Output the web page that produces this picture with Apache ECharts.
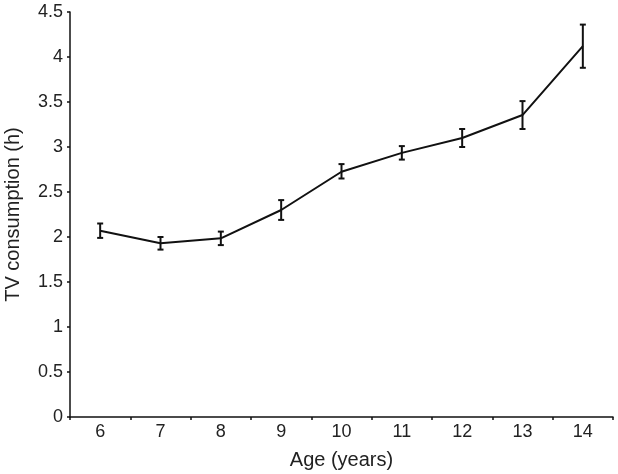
<!DOCTYPE html>
<html>
<head>
<meta charset="utf-8">
<script src="https://cdn.jsdelivr.net/npm/echarts@6/dist/echarts.min.js"></script>
<style>
html,body{margin:0;padding:0;background:#fff;}
#main{width:618px;height:474px;}
</style>
</head>
<body>
<div id="main"></div>
<script>
const categories = ['6','7','8','9','10','11','12','13','14'];
const means = [2.07, 1.93, 1.985, 2.30, 2.725, 2.935, 3.10, 3.355, 4.12];
const errLow = [1.99, 1.86, 1.91, 2.19, 2.65, 2.86, 3.00, 3.20, 3.88];
const errHigh = [2.15, 2.00, 2.06, 2.41, 2.81, 3.01, 3.20, 3.51, 4.36];
const yTicks = [0, 0.5, 1, 1.5, 2, 2.5, 3, 3.5, 4, 4.5];

const chart = echarts.init(document.getElementById('main'));
const font = 'Liberation Sans, Arial, Helvetica, sans-serif';
chart.setOption({
  animation: false,
  grid: {left: 70, right: 5, top: 12, bottom: 57, containLabel: false, outerBoundsMode: 'none'},
  xAxis: {
    type: 'category',
    data: categories,
    boundaryGap: true,
    name: 'Age (years)',
    nameLocation: 'middle',
    nameGap: 33,
    nameTextStyle: {fontFamily: font, fontSize: 20, color: '#222'},
    axisLine: {lineStyle: {color: '#111', width: 1.5}},
    axisTick: {show: true, length: 3, lineStyle: {color: '#111', width: 1.5}},
    axisLabel: {fontFamily: font, fontSize: 18, color: '#222', margin: 6},
    splitLine: {show: false}
  },
  yAxis: {
    type: 'value',
    min: 0, max: 4.5, interval: 0.5,
    name: 'TV consumption (h)',
    nameLocation: 'middle',
    nameGap: 47,
    nameTextStyle: {fontFamily: font, fontSize: 20, color: '#222'},
    axisLine: {show: true, lineStyle: {color: '#111', width: 1.5}},
    axisTick: {show: true, length: 3, lineStyle: {color: '#111', width: 1.5}},
    axisLabel: {fontFamily: font, fontSize: 18, color: '#222', margin: 7,
      formatter: v => String(yTicks.find(t => Math.abs(t - v) < 1e-9) ?? v)},
    splitLine: {show: false}
  },
  series: [
    {
      type: 'line',
      data: means,
      symbol: 'none',
      lineStyle: {color: '#111', width: 2}
    },
    {
      type: 'custom',
      data: categories.map((c, i) => [i, errLow[i], errHigh[i]]),
      renderItem: function (params, api) {
        const x = api.value(0);
        const lo = api.coord([x, api.value(1)]);
        const hi = api.coord([x, api.value(2)]);
        const w = 3;
        const style = {stroke: '#111', lineWidth: 2};
        return {
          type: 'group',
          children: [
            {type: 'line', shape: {x1: lo[0], y1: lo[1], x2: hi[0], y2: hi[1]}, style: style},
            {type: 'line', shape: {x1: lo[0] - w, y1: lo[1], x2: lo[0] + w, y2: lo[1]}, style: style},
            {type: 'line', shape: {x1: hi[0] - w, y1: hi[1], x2: hi[0] + w, y2: hi[1]}, style: style}
          ]
        };
      },
      z: 3
    }
  ]
});
</script>
</body>
</html>
